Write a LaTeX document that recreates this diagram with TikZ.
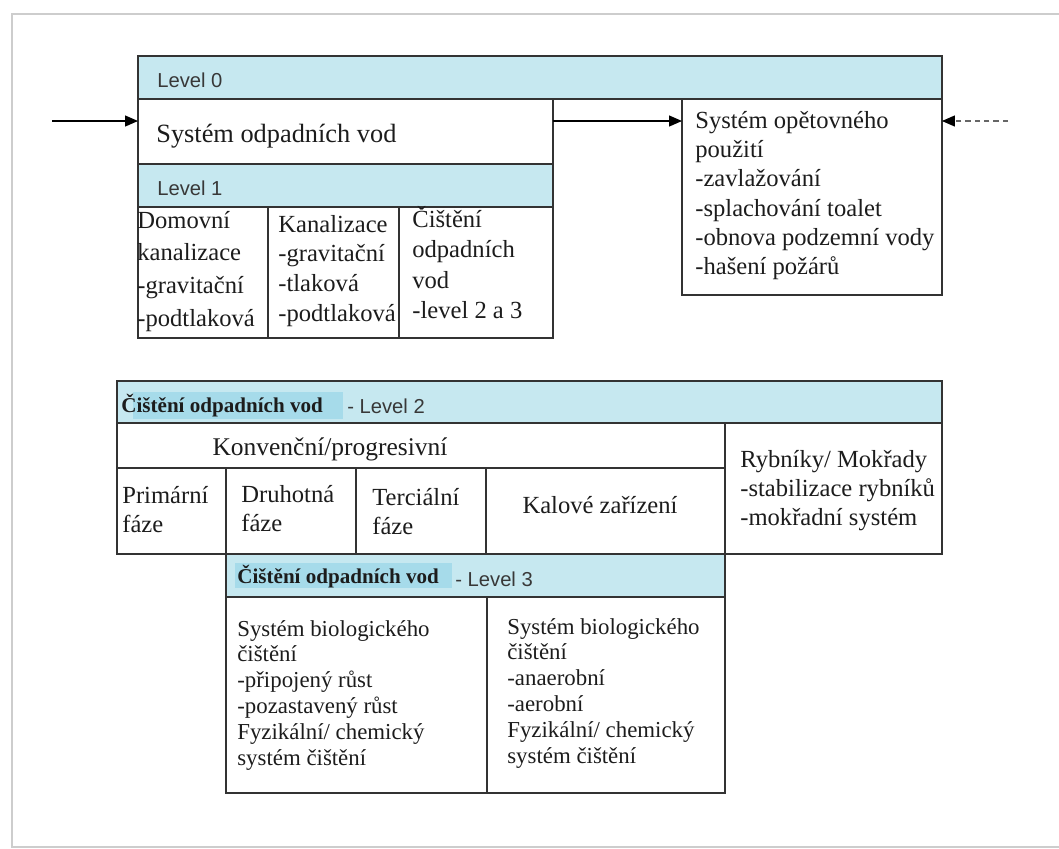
\documentclass[tikz,border=0pt]{standalone}
\usepackage{fontspec}
\setmainfont{Liberation Serif}
\setsansfont{Liberation Sans}
\usetikzlibrary{arrows.meta}
\definecolor{hdrblue}{RGB}{198,232,240}
\definecolor{hlblue}{RGB}{166,219,234}
\definecolor{linec}{RGB}{51,51,51}
\definecolor{textc}{RGB}{28,28,28}
\definecolor{framec}{RGB}{205,205,205}
\newcommand{\radky}[1]{\begin{tabular}[t]{@{}l@{}}#1\end{tabular}}
\newcommand{\fs}[2]{\fontsize{#1}{#2}\selectfont}

\begin{document}
\begin{tikzpicture}[x=0.02cm, y=-0.02cm,
  box/.style={draw=linec, line width=1pt},
  hdr/.style={draw=linec, line width=1pt, fill=hdrblue},
  boxnode/.style={box, anchor=north west, inner sep=0pt, outer sep=0pt},
  txt/.style={inner sep=0pt, anchor=base west, text=textc},
  lvl/.style={txt, font=\sffamily\fs{11.5}{14}, text=black!78},
  tucne/.style={txt, font=\bfseries\fs{12}{14}},
  tok/.style={-{Triangle[length=2.6mm,width=2.2mm]}, line width=0.7pt},
]
\useasboundingbox (0,0) rectangle (1059,849);

%%%%% RAM %%%%%
\draw[framec, line width=1.2pt] (1059,14) -- (12,14) -- (12,847) -- (1059,847);

%%%%% LEVEL 0 %%%%%
\draw[hdr] (138,56) rectangle (942,99);
\node[lvl] (l0) at (157,87) {Level 0};

\node[boxnode, minimum width=8.3cm, minimum height=1.3cm] (odpad) at (138,99) {};
\node[txt, font=\fs{15}{18}] (odpadt) at (156,142) {Systém odpadních vod};

\node[boxnode, minimum width=5.2cm, minimum height=3.92cm] (reuse) at (682,99) {};
\node[txt, font=\fs{14}{16.7}] (reuset) at (695,128)
  {\radky{Systém opětovného\\použití\\-zavlažování\\-splachování toalet\\-obnova podzemní vody\\-hašení požárů}};

%%%%% LEVEL 1 %%%%%
\draw[hdr] (138,164) rectangle (553,207);
\node[lvl] (l1) at (157,195) {Level 1};

\draw[box] (138,207) rectangle (553,338);
\draw[box] (268,207) -- (268,338);
\draw[box] (399,207) -- (399,338);

\node[txt, font=\fs{14}{18.7}] (domovni) at (137,228)
  {\radky{Domovní\\kanalizace\\-gravitační\\-podtlaková}};
\node[txt, font=\fs{14}{17}] (kanal) at (278,232)
  {\radky{Kanalizace\\-gravitační\\-tlaková\\-podtlaková}};
\node[txt, font=\fs{14}{17.4}] (cisteni) at (412,227)
  {\radky{Čištění\\odpadních\\vod\\-level 2 a 3}};

%%%%% SIPKY %%%%%
\coordinate (vstup) at (52,121);
\coordinate (zpet) at (1008,121);
\draw[tok] (vstup) -- (vstup -| odpad.west);
\draw[tok] (vstup -| odpad.east) -- (vstup -| reuse.west);
\draw[-{Triangle[length=2.6mm,width=2.2mm,color=black]}, line width=0.7pt, black!60,
  dash pattern=on 3pt off 2.3pt] (zpet) -- (zpet -| reuse.east);

%%%%% LEVEL 2 %%%%%
\draw[hdr] (117,381) rectangle (942,423);
\fill[hlblue] (133,392) rectangle (343,419);
\node[tucne] (h2) at (121,412) {Čištění odpadních vod};
\node[lvl] (l2) at (347,413) {- Level 2};

\draw[box] (117,423) rectangle (725,554);
\draw[box] (117,468) -- (725,468);
\foreach \x in {226,356,486}
  \draw[box] (\x,468) -- (\x,554);
\draw[box] (725,423) rectangle (942,554);

\node[txt, anchor=base, font=\fs{14.5}{17}] (konv) at (330,455) {Konvenční/progresivní};
\node[txt, font=\fs{14}{17}] (prim) at (122,503) {\radky{Primární\\fáze}};
\node[txt, font=\fs{14}{17}] (druh) at (241,502) {\radky{Druhotná\\fáze}};
\node[txt, font=\fs{14}{17}] (terc) at (372,505) {\radky{Terciální\\fáze}};
\node[txt, anchor=base, font=\fs{14}{17}] (kal) at (600,513) {Kalové zařízení};
\node[txt, font=\fs{14}{16.7}] (rybn) at (740,467)
  {\radky{Rybníky/ Mokřady\\-stabilizace rybníků\\-mokřadní systém}};

%%%%% LEVEL 3 %%%%%
\draw[hdr] (226,554) rectangle (725,597);
\fill[hlblue] (235,563) rectangle (452,588);
\node[tucne] (h3) at (237,583) {Čištění odpadních vod};
\node[lvl] (l3) at (455,586) {- Level 3};

\draw[box] (226,597) rectangle (725,793);
\draw[box] (487,597) -- (487,793);

\node[txt, font=\fs{13}{14.7}] (bio1) at (237,636)
  {\radky{Systém biologického\\čištění\\-připojený růst\\-pozastavený růst\\Fyzikální/ chemický\\systém čištění}};
\node[txt, font=\fs{13}{14.7}] (bio2) at (507,634)
  {\radky{Systém biologického\\čištění\\-anaerobní\\-aerobní\\Fyzikální/ chemický\\systém čištění}};

\end{tikzpicture}
\end{document}
